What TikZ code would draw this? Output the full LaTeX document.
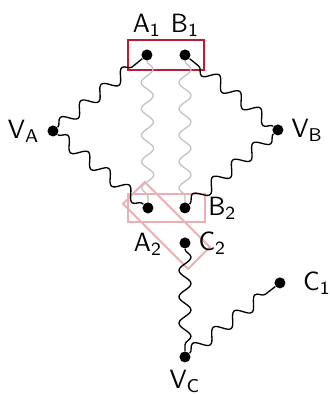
\documentclass[tikz,border=0pt]{standalone}
\usepackage{xcolor}
\usepackage{tikz}
\usetikzlibrary{
  decorations.pathmorphing,
  backgrounds,
  positioning,
  calc
}
\definecolor{grpred}{RGB}{185,30,50}
\definecolor{grppink}{RGB}{235,175,180}
\definecolor{wavegray}{RGB}{195,195,195}

\begin{document}
\begin{tikzpicture}[
  every node/.style={font=\sffamily\fontsize{11}{13}\selectfont},
  every label/.style={inner sep=3pt},
  dot/.style={circle, fill=black, inner sep=0pt, minimum size=4.6pt},
  wave/.style={decorate, decoration={snake, amplitude=2.5pt, segment length=11pt}, line width=0.55pt},
  softwave/.style={wave, draw=wavegray},
  grp/.style={rectangle, draw=grpred, line width=0.8pt, inner sep=0pt,
    minimum width=1.11cm, minimum height=0.44cm},
  softgrp/.style={grp, draw=grppink}
]
  \useasboundingbox (0,0) rectangle (4.83,-5.77);

  \node[dot, label={[label distance=2pt]above:A\textsubscript{1}}] (a1) at (2.152,-0.805) {};
  \node[dot, label={[label distance=2pt]above:B\textsubscript{1}}] (b1) at (2.709,-0.805) {};
  \node[dot, label=left:V\textsubscript{A}] (va) at (0.776,-1.918) {};
  \node[dot, label=right:V\textsubscript{B}] (vb) at (4.070,-1.903) {};
  \node[dot, label={[label distance=5pt]below:A\textsubscript{2}}] (a2) at (2.167,-3.045) {};
  \node[dot, label={[label distance=4pt]right:B\textsubscript{2}}] (b2) at (2.709,-3.045) {};
  \node[dot, label=right:C\textsubscript{2}] (c2) at (2.709,-3.558) {};
  \node[dot, label={[label distance=4pt]right:C\textsubscript{1}}] (c1) at (4.100,-4.143) {};
  \node[dot, label=below:V\textsubscript{C}] (vc) at (2.709,-5.227) {};

  \begin{scope}[on background layer]
    \node[grp] (top) at ($(a1)!0.5!(b1)$) {};
    \node[softgrp, minimum width=1.13cm, minimum height=0.42cm] (mid) at ($(a2)!0.5!(b2)$) {};
    \node[softgrp, minimum width=1.35cm, minimum height=0.45cm, rotate=-45] (diag) at ($(a2)!0.5!(c2)$) {};

    \foreach \f/\t in {a1/a2,b1/b2} {
      \draw[softwave] (\f) -- (\t);
    }
    \foreach \f/\t in {va/a1,va/a2,vb/b1,vb/b2,c2/vc,vc/c1} {
      \draw[wave] (\f) -- (\t);
    }
  \end{scope}
\end{tikzpicture}
\end{document}
